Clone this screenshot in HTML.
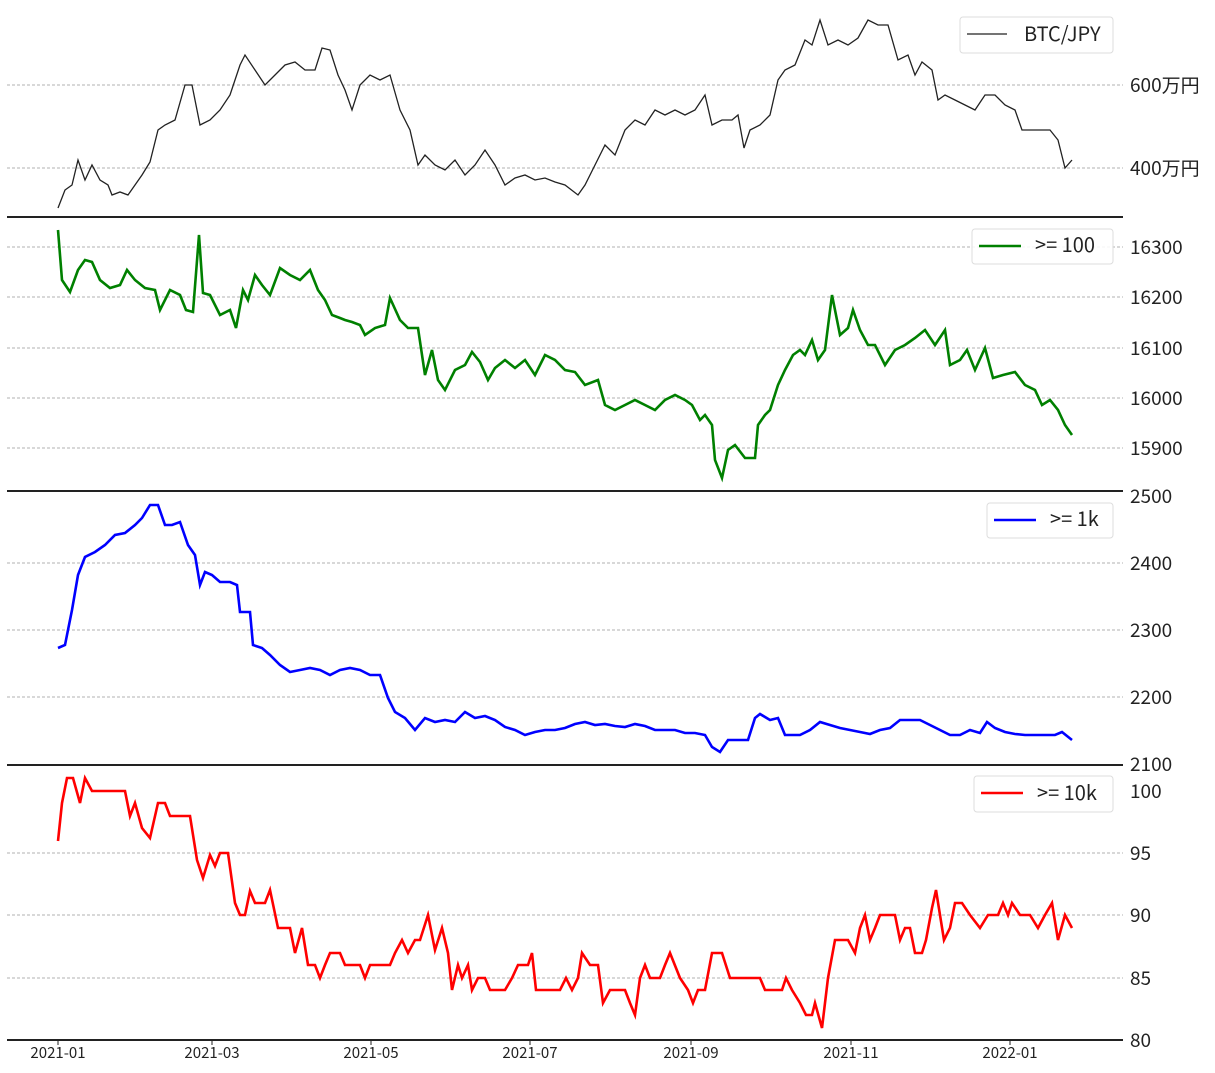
<!DOCTYPE html>
<html><head><meta charset="utf-8"><style>
html,body{margin:0;padding:0;background:#fff;}
svg text{font-family:"Noto Sans CJK JP","Liberation Sans",sans-serif;fill:#222;}
</style></head><body>
<svg width="1215" height="1068" viewBox="0 0 1215 1068" xmlns="http://www.w3.org/2000/svg">
<g stroke="#999" stroke-width="0.8" stroke-dasharray="3,2">
<line x1="7" y1="85" x2="1123" y2="85"/><line x1="7" y1="168" x2="1123" y2="168"/>
<line x1="7" y1="247" x2="1123" y2="247"/><line x1="7" y1="297" x2="1123" y2="297"/><line x1="7" y1="348" x2="1123" y2="348"/><line x1="7" y1="398" x2="1123" y2="398"/><line x1="7" y1="448" x2="1123" y2="448"/>
<line x1="7" y1="563" x2="1123" y2="563"/><line x1="7" y1="630" x2="1123" y2="630"/><line x1="7" y1="697" x2="1123" y2="697"/>
<line x1="7" y1="853" x2="1123" y2="853"/><line x1="7" y1="915" x2="1123" y2="915"/><line x1="7" y1="978" x2="1123" y2="978"/>
</g>
<g stroke="#222" stroke-width="2">
<line x1="7" y1="217" x2="1123" y2="217"/><line x1="7" y1="491" x2="1123" y2="491"/><line x1="7" y1="765" x2="1123" y2="765"/><line x1="7" y1="1040" x2="1123" y2="1040"/>
</g>
<g stroke="#222" stroke-width="1">
<line x1="58" y1="1040" x2="58" y2="1045"/><line x1="212" y1="1040" x2="212" y2="1045"/><line x1="371" y1="1040" x2="371" y2="1045"/><line x1="530" y1="1040" x2="530" y2="1045"/><line x1="691" y1="1040" x2="691" y2="1045"/><line x1="851" y1="1040" x2="851" y2="1045"/><line x1="1010" y1="1040" x2="1010" y2="1045"/>
</g>
<g font-size="15" text-anchor="middle">
<text x="58" y="1058">2021-01</text><text x="212" y="1058">2021-03</text><text x="371" y="1058">2021-05</text><text x="530" y="1058">2021-07</text><text x="691" y="1058">2021-09</text><text x="851" y="1058">2021-11</text><text x="1010" y="1058">2022-01</text>
</g>
<g font-size="19">
<text x="1130" y="92">600万円</text><text x="1130" y="175">400万円</text>
<text x="1130" y="254">16300</text><text x="1130" y="304">16200</text><text x="1130" y="355">16100</text><text x="1130" y="405">16000</text><text x="1130" y="455">15900</text>
<text x="1130" y="503">2500</text><text x="1130" y="570">2400</text><text x="1130" y="637">2300</text><text x="1130" y="704">2200</text><text x="1130" y="771">2100</text>
<text x="1130" y="798">100</text><text x="1130" y="860">95</text><text x="1130" y="922">90</text><text x="1130" y="985">85</text><text x="1130" y="1047">80</text>
</g>
<polyline fill="none" stroke="#222" stroke-width="1.3" points="58,208 65,190 72,185 78,160 85,180 92,165 100,180 108,185 112,195 120,192 128,195 135,185 142,175 150,162 158,130 165,125 175,120 185,85 192,85 200,125 210,120 220,110 230,95 240,65 245,55 255,70 265,85 275,75 285,65 295,62 305,70 315,70 322,48 330,50 338,75 345,90 352,110 360,85 370,75 380,80 390,75 400,110 410,130 418,165 425,155 435,165 445,170 455,160 465,175 475,165 485,150 495,165 505,185 515,178 525,175 535,180 545,178 555,182 565,185 578,195 585,185 595,165 605,145 615,155 625,130 635,120 645,125 655,110 665,115 675,110 685,115 695,110 705,95 712,125 722,120 732,120 738,115 744,148 750,130 760,125 770,115 778,80 785,70 795,65 805,40 812,45 820,20 828,45 838,40 848,45 858,38 868,20 878,25 888,25 898,60 908,55 915,75 922,62 932,70 938,100 945,95 955,100 965,105 975,110 985,95 995,95 1005,105 1015,110 1022,130 1030,130 1040,130 1050,130 1058,140 1065,168 1072,160"/>
<polyline fill="none" stroke="#008000" stroke-width="2.6" points="58,230 62,280 70,292 78,270 85,260 92,262 100,280 110,288 120,285 127,270 135,280 145,288 155,290 160,310 170,290 180,295 186,310 193,312 199,235 203,293 210,295 220,315 230,310 236,328 243,290 248,300 255,275 262,285 270,295 280,268 290,275 300,280 310,270 318,290 325,300 332,315 340,318 345,320 352,322 360,325 365,335 375,328 385,325 390,298 400,320 408,328 418,328 425,375 432,350 438,380 445,390 455,370 465,365 472,352 480,362 488,380 495,368 505,360 515,368 525,360 535,375 545,355 555,360 565,370 575,372 585,385 598,380 605,405 615,410 625,405 635,400 645,405 655,410 665,400 675,395 685,400 692,405 700,420 705,415 712,425 715,460 722,478 728,450 735,445 745,458 755,458 758,425 765,415 770,410 778,385 785,370 793,355 800,350 805,355 812,340 818,360 825,350 832,295 840,335 848,328 853,310 860,330 868,345 875,345 885,365 895,350 905,345 915,338 925,330 935,345 945,330 950,365 960,360 967,350 975,370 985,348 993,378 1003,375 1015,372 1025,385 1035,390 1042,405 1050,400 1058,410 1065,425 1072,435"/>
<polyline fill="none" stroke="#0000ff" stroke-width="2.6" points="58,648 65,645 72,610 78,575 85,557 95,552 105,545 115,535 125,533 135,525 142,518 150,505 158,505 165,525 172,525 180,522 188,545 195,555 200,585 205,572 212,575 220,582 230,582 237,585 240,612 250,612 253,645 262,648 270,655 280,665 290,672 300,670 310,668 320,670 330,675 340,670 350,668 360,670 370,675 380,675 388,698 395,712 405,718 415,730 425,718 435,722 445,720 455,722 465,712 475,718 485,716 495,720 505,727 515,730 525,735 535,732 545,730 555,730 565,728 575,724 585,722 595,725 605,724 615,726 625,727 635,724 645,726 655,730 665,730 675,730 685,733 695,733 705,735 712,747 720,752 728,740 740,740 748,740 755,718 760,714 770,720 778,718 785,735 800,735 810,730 820,722 830,725 840,728 850,730 860,732 870,734 880,730 890,728 900,720 910,720 920,720 930,725 940,730 950,735 960,735 970,730 980,733 987,722 995,728 1005,732 1015,734 1025,735 1035,735 1045,735 1055,735 1062,732 1072,740"/>
<polyline fill="none" stroke="#ff0000" stroke-width="2.6" points="58,841 62,803 67,778 73,778 80,803 85,778 92,791 105,791 115,791 125,791 130,816 135,803 142,828 150,838 158,803 165,803 170,816 190,816 197,860 203,878 210,855 215,866 220,853 228,853 235,903 240,915 245,915 250,891 255,903 265,903 270,890 278,928 290,928 295,953 302,928 308,965 315,965 320,978 325,965 330,953 340,953 345,965 360,965 365,978 370,965 390,965 395,953 402,940 408,953 415,940 420,940 428,915 435,950 442,928 448,953 452,990 458,965 462,978 468,965 472,990 478,978 485,978 490,990 505,990 512,978 518,965 528,965 532,953 536,990 560,990 566,978 572,990 578,978 582,953 590,965 598,965 603,1003 610,990 625,990 630,1003 635,1015 640,978 645,965 650,978 660,978 665,965 670,953 680,978 688,990 693,1003 698,990 705,990 712,953 722,953 730,978 750,978 760,978 765,990 782,990 786,978 792,990 800,1003 806,1015 812,1015 815,1003 822,1028 828,978 835,940 848,940 855,953 860,928 865,915 870,940 875,928 880,915 895,915 900,940 905,928 910,928 915,953 922,953 926,940 932,908 936,890 940,915 944,940 950,928 955,903 962,903 970,915 980,928 988,915 998,915 1003,903 1008,915 1012,903 1020,915 1030,915 1038,928 1045,915 1052,903 1058,940 1065,915 1072,928"/>
<g fill="#fff" fill-opacity="0.85" stroke="#ddd" stroke-width="1">
<rect x="960" y="17" width="153" height="36" rx="3"/>
<rect x="972" y="229" width="141" height="35" rx="3"/>
<rect x="987" y="503" width="126" height="35" rx="3"/>
<rect x="974" y="776" width="139" height="36" rx="3"/>
</g>
<line x1="967" y1="34" x2="1007" y2="34" stroke="#222" stroke-width="1.3"/>
<line x1="979" y1="246" x2="1021" y2="246" stroke="#008000" stroke-width="2.6"/>
<line x1="994" y1="520" x2="1036" y2="520" stroke="#0000ff" stroke-width="2.6"/>
<line x1="981" y1="793" x2="1023" y2="793" stroke="#ff0000" stroke-width="2.6"/>
<g font-size="20">
<text x="1024" y="41">BTC/JPY</text>
<text x="1035" y="252">&gt;= 100</text>
<text x="1050" y="526">&gt;= 1k</text>
<text x="1037" y="800">&gt;= 10k</text>
</g>
</svg>
</body></html>
